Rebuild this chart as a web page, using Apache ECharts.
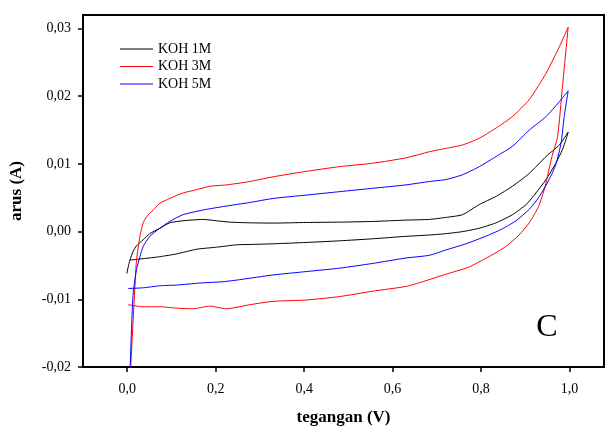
<!DOCTYPE html>
<html>
<head>
<meta charset="utf-8">
<script src="https://cdn.jsdelivr.net/npm/echarts@6/dist/echarts.min.js"></script>
<style>html,body{margin:0;padding:0;background:#fff;}#chart{width:606px;height:426px;}</style>
</head>
<body>
<div id="chart"></div>
<script>
// Tick labels
const xTicks = [0, 0.2, 0.4, 0.6, 0.8, 1.0];
const yTicks = [-0.02, -0.01, 0, 0.01, 0.02, 0.03];
const seriesNames = ['KOH 1M', 'KOH 3M', 'KOH 5M'];

// KOH 1M : voltage (V) and current (A)
const koh1V = [-0.001, 0.006, 0.0135, 0.021, 0.036, 0.051, 0.074, 0.096, 0.126, 0.172, 0.202, 0.232, 0.277, 0.33, 0.405, 0.48, 0.555, 0.63, 0.683, 0.721, 0.758, 0.796, 0.834, 0.871, 0.909, 0.947, 0.977, 0.997,
  0.992, 0.984, 0.969, 0.947, 0.924, 0.902, 0.871, 0.834, 0.796, 0.758, 0.721, 0.683, 0.63, 0.555, 0.48, 0.405, 0.33, 0.277, 0.247, 0.202, 0.157, 0.111, 0.074, 0.036, 0.006];
const koh1I = [-0.0062, -0.0042, -0.0029, -0.0021, -0.0012, -0.0003, 0.0005, 0.0013, 0.0016, 0.0018, 0.0016, 0.0014, 0.0013, 0.00126, 0.00135, 0.0014, 0.0015, 0.0017, 0.0018, 0.0021, 0.0025, 0.004, 0.0052, 0.0067, 0.0086, 0.0111, 0.0128, 0.0147,
  0.0136, 0.0121, 0.0101, 0.0077, 0.0057, 0.004, 0.0025, 0.0013, 0.0005, 0.0, -0.0003, -0.0005, -0.0007, -0.00106, -0.00136, -0.0016, -0.0018, -0.0019, -0.00195, -0.0023, -0.0026, -0.0033, -0.0037, -0.0040, -0.0042];

// KOH 3M
const koh3V = [0.0069, 0.0174, 0.021, 0.0287, 0.036, 0.0438, 0.0587, 0.074, 0.096, 0.126, 0.157, 0.187, 0.224, 0.277, 0.33, 0.405, 0.48, 0.555, 0.63, 0.683, 0.721, 0.758, 0.796, 0.834, 0.871, 0.909, 0.947, 0.977, 0.997,
  0.984, 0.973, 0.96, 0.945, 0.93, 0.909, 0.886, 0.856, 0.815, 0.77, 0.72, 0.668, 0.63, 0.555, 0.48, 0.405, 0.33, 0.277, 0.224, 0.187, 0.149, 0.111, 0.074, 0.036, 0.002];
const koh3I = [-0.0212, -0.0081, -0.0042, -0.0007, 0.0013, 0.0022, 0.0032, 0.0042, 0.0049, 0.0057, 0.0062, 0.0067, 0.0069, 0.0074, 0.0081, 0.0089, 0.0096, 0.0101, 0.0109, 0.0118, 0.0123, 0.0128, 0.0138, 0.0153, 0.017, 0.0195, 0.0234, 0.0273, 0.0302,
  0.0214, 0.014, 0.011, 0.0067, 0.0037, 0.0013, -0.0005, -0.0022, -0.0038, -0.0053, -0.0063, -0.0074, -0.0081, -0.0088, -0.0096, -0.0101, -0.0103, -0.0108, -0.0114, -0.011, -0.0114, -0.0113, -0.0111, -0.0111, -0.0108];

// KOH 5M
const koh5V = [0.006, 0.0099, 0.0135, 0.021, 0.0287, 0.036, 0.051, 0.074, 0.096, 0.126, 0.172, 0.217, 0.277, 0.33, 0.405, 0.48, 0.555, 0.63, 0.683, 0.721, 0.758, 0.796, 0.834, 0.871, 0.909, 0.947, 0.977, 0.997,
  0.988, 0.981, 0.969, 0.954, 0.932, 0.909, 0.879, 0.845, 0.81, 0.766, 0.721, 0.683, 0.63, 0.555, 0.48, 0.405, 0.33, 0.254, 0.217, 0.164, 0.111, 0.074, 0.036, 0.002];
const koh5I = [-0.0212, -0.014, -0.0091, -0.0056, -0.0037, -0.0022, -0.0007, 0.0005, 0.0015, 0.0025, 0.0032, 0.0037, 0.0043, 0.0049, 0.0054, 0.0059, 0.0064, 0.0069, 0.0074, 0.0077, 0.0084, 0.0096, 0.0111, 0.0126, 0.015, 0.017, 0.0192, 0.0208,
  0.017, 0.0131, 0.0099, 0.0077, 0.0052, 0.0033, 0.0016, 0.0003, -0.0007, -0.0018, -0.0027, -0.0035, -0.0039, -0.0047, -0.0054, -0.0059, -0.0064, -0.0071, -0.0074, -0.0076, -0.0079, -0.008, -0.0083, -0.0084];

const zip = (a, b) => a.map((v, i) => [v, b[i]]);
const FONT = 'Liberation Serif';
const colors = ['#000000', '#ff0000', '#0000ff'];
const allData = [zip(koh1V, koh1I), zip(koh3V, koh3I), zip(koh5V, koh5I)];

const chart = echarts.init(document.getElementById('chart'), null, {renderer: 'canvas'});
chart.setOption({
  animation: false,
  backgroundColor: '#fff',
  grid: {left: 83, right: 2, top: 15, bottom: 59, show: true, borderColor: '#000', borderWidth: 2,
    containLabel: false, outerBoundsMode: 'none'},
  xAxis: {
    type: 'value', min: -0.1, max: 1.078,
    name: 'tegangan (V)', nameLocation: 'middle', nameGap: 42,
    nameTextStyle: {fontFamily: FONT, fontWeight: 'bold', fontSize: 17, color: '#000'},
    axisLine: {show: true, onZero: false, lineStyle: {color: '#000', width: 2}},
    axisTick: {show: true, inside: false, length: 5, lineStyle: {color: '#000', width: 1.5}, customValues: xTicks},
    axisLabel: {customValues: xTicks, margin: 15, fontFamily: FONT, fontSize: 14, color: '#000',
      formatter: v => v.toFixed(1).replace('.', ',')},
    splitLine: {show: false}
  },
  yAxis: {
    type: 'value', min: -0.02, max: 0.032,
    name: 'arus (A)', nameLocation: 'middle', nameGap: 58,
    nameTextStyle: {fontFamily: FONT, fontWeight: 'bold', fontSize: 17, color: '#000'},
    axisLine: {show: true, onZero: false, lineStyle: {color: '#000', width: 2}},
    axisTick: {show: true, inside: false, length: 5, lineStyle: {color: '#000', width: 1.5}, customValues: yTicks},
    axisLabel: {customValues: yTicks, margin: 12, fontFamily: FONT, fontSize: 14, color: '#000',
      formatter: v => v.toFixed(2).replace('.', ',')},
    splitLine: {show: false}
  },
  legend: {
    data: seriesNames, orient: 'vertical', left: 115, top: 37,
    icon: 'rect', itemWidth: 33, itemHeight: 1, itemGap: 3.5,
    textStyle: {fontFamily: FONT, fontSize: 14, lineHeight: 14, color: '#000'}
  },
  graphic: [{
    type: 'text', x: 547, y: 328,
    style: {text: 'C', font: '32px "Liberation Serif"', fill: '#000', align: 'center', verticalAlign: 'middle'}
  }],
  series: seriesNames.map((n, k) => ({
    name: n, type: 'line', data: allData[k], symbol: 'none', smooth: 0.2,
    lineStyle: {color: colors[k], width: 1}, itemStyle: {color: colors[k]}, clip: true
  }))
});
</script>
</body>
</html>
